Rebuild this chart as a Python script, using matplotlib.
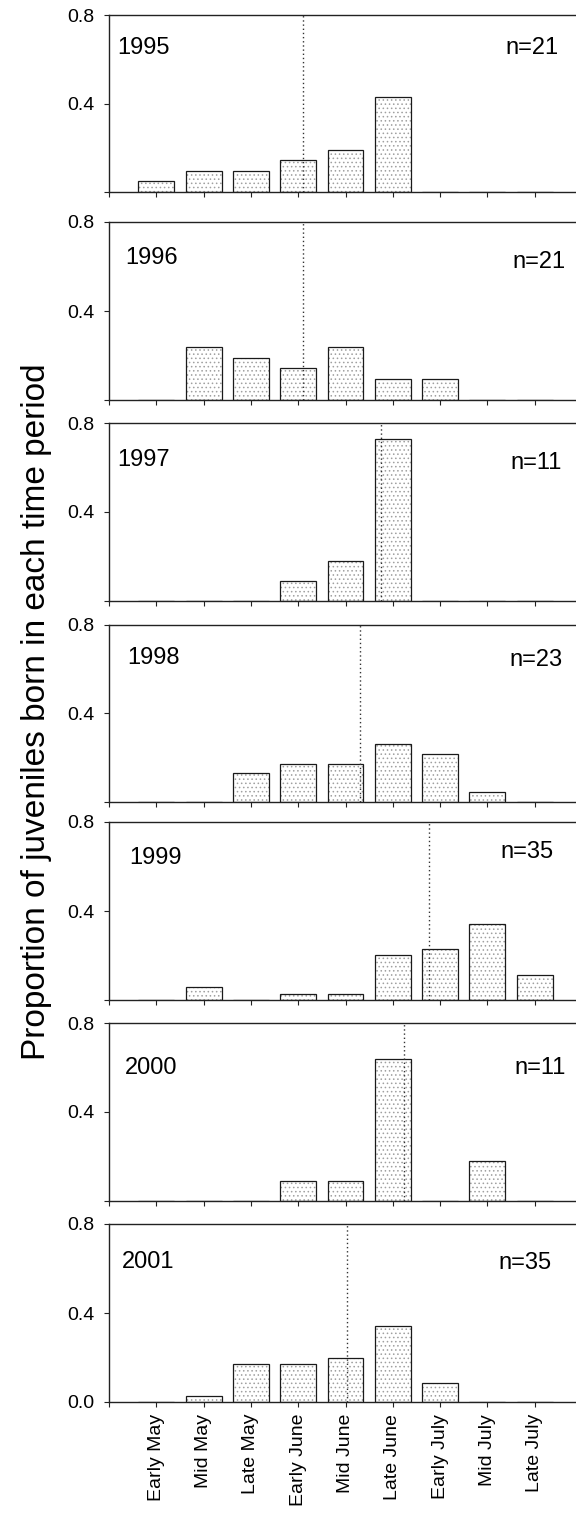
import matplotlib
matplotlib.use("Agg")
import matplotlib.pyplot as plt
import numpy as np

plt.rcParams["font.family"] = ["Liberation Sans", "DejaVu Sans"]
plt.rcParams["hatch.linewidth"] = 0.6

periods = ["Early May", "Mid May", "Late May", "Early June", "Mid June",
           "Late June", "Early July", "Mid July", "Late July"]
years = ["1995", "1996", "1997", "1998", "1999", "2000", "2001"]

# juveniles born in each period, per year
counts_1995 = [1, 2, 2, 3, 4, 9, 0, 0, 0]
counts_1996 = [0, 5, 4, 3, 5, 2, 2, 0, 0]
counts_1997 = [0, 0, 0, 1, 2, 8, 0, 0, 0]
counts_1998 = [0, 0, 3, 4, 4, 6, 5, 1, 0]
counts_1999 = [0, 2, 0, 1, 1, 7, 8, 12, 4]
counts_2000 = [0, 0, 0, 1, 1, 7, 0, 2, 0]
counts_2001 = [0, 1, 6, 6, 7, 12, 3, 0, 0]
n_per_year = [21, 21, 11, 23, 35, 11, 35]

# dotted reference line for each year (period scale, 1 = Early May)
ref_line = [4.10, 4.10, 5.76, 5.30, 6.76, 6.23, 5.04]

all_counts = [counts_1995, counts_1996, counts_1997, counts_1998,
              counts_1999, counts_2000, counts_2001]

W, H = 576, 1521
fig = plt.figure(figsize=(W / 100, H / 100), dpi=100)

ax_left = 109
tops = [15, 222, 423, 625, 822, 1023, 1224]
bottoms = [192, 400, 601, 802, 1000, 1201, 1402]
# label anchors: x in period units, y as axes fraction
year_xy = [(0.17, 0.815), (0.34, 0.80), (0.17, 0.79), (0.38, 0.815),
           (0.42, 0.80), (0.34, 0.75), (0.27, 0.785)]
n_xy = [(9.51, 0.815), (9.66, 0.775), (9.58, 0.775), (9.58, 0.80),
        (9.39, 0.83), (9.66, 0.75), (9.35, 0.78)]

x = np.arange(1, len(periods) + 1)
for i, year in enumerate(years):
    ax = fig.add_axes([ax_left / W, 1 - bottoms[i] / H,
                       1 - ax_left / W, (bottoms[i] - tops[i]) / H])
    prop = np.array(all_counts[i]) / n_per_year[i]
    # stipple fill, then the outline on top
    ax.bar(x, prop, width=0.76, color="white", edgecolor="#a0a0a0",
           hatch="....", linewidth=0)
    ax.bar(x, prop, width=0.76, fill=False, edgecolor="#1a1a1a",
           linewidth=0.9)
    ax.axvline(ref_line[i], color="#333333", linestyle=(0, (1, 2)),
               linewidth=1.0)

    ax.set_xlim(0, (W - ax_left) / 47.3)
    ax.set_ylim(0, 0.8)
    ax.set_yticks([0, 0.4, 0.8])
    ax.set_xticks(np.arange(0, 10))
    if i == len(years) - 1:
        ax.set_yticklabels(["0.0", "0.4", "0.8"])
        ax.set_xticklabels([""] + periods, rotation=90, va="top")
    else:
        ax.set_yticklabels(["", "0.4", "0.8"])
        ax.set_xticklabels([])
    ax.tick_params(direction="out", length=3.6, width=0.8, color="#222222")
    ax.tick_params(axis="y", labelsize=14, pad=7)
    ax.tick_params(axis="x", labelsize=14, pad=5)
    ax.spines["right"].set_visible(False)
    for s in ("left", "top", "bottom"):
        ax.spines[s].set_linewidth(1.0)
        ax.spines[s].set_color("#222222")

    tr = ax.get_xaxis_transform()
    ax.text(year_xy[i][0], year_xy[i][1], year, transform=tr,
            ha="left", va="center", fontsize=17)
    ax.text(n_xy[i][0], n_xy[i][1], f"n={n_per_year[i]}", transform=tr,
            ha="right", va="center", fontsize=17)

fig.text(37 / W, 1 - 712 / H, "Proportion of juveniles born in each time period",
         rotation=90, ha="center", va="center", fontsize=24)

fig.savefig("out.png", dpi=100)
